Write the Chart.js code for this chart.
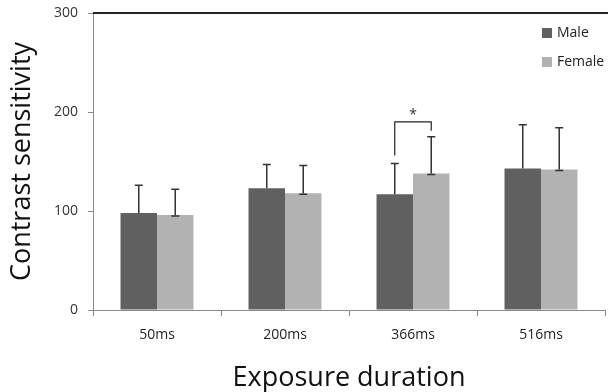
<!DOCTYPE html>
<html>
<head>
<meta charset="utf-8">
<script src="https://cdn.jsdelivr.net/npm/chart.js@4"></script>
<style>
  html, body { margin: 0; padding: 0; background: #fff; }
  #wrap { width: 608px; height: 392px; }
</style>
</head>
<body>
<div id="wrap"><canvas id="myChart" width="608" height="392"></canvas></div>
<script>
var categories = ['50ms', '200ms', '366ms', '516ms']
var maleValues = [98, 123, 117, 143]
var maleErrors = [28, 24, 31, 44]
var femaleValues = [96, 118, 138, 142]
var femaleErrors = [26, 28, 37, 42]
var yTicks = [0, 100, 200, 300]

// significance bracket at 366ms, in data units
var bracketCategory = 2
var bracketLeftFrom = 156
var bracketRightFrom = 181
var bracketTop = 190
var starValue = 199

var fontName = '"Open Sans", "DejaVu Sans", sans-serif'

var extras = {
  id: 'extras',
  afterDatasetsDraw: function (chart) {
    var ctx = chart.ctx
    var y = chart.scales.y
    var area = chart.chartArea
    ctx.save()

    // error bars
    ctx.strokeStyle = '#333'
    ctx.lineWidth = 1.5
    chart.data.datasets.forEach(function (ds, i) {
      var meta = chart.getDatasetMeta(i)
      meta.data.forEach(function (bar, j) {
        var top = y.getPixelForValue(ds.data[j] + ds.errors[j])
        ctx.beginPath()
        ctx.moveTo(bar.x, bar.y)
        ctx.lineTo(bar.x, top)
        ctx.moveTo(bar.x - 4, top)
        ctx.lineTo(bar.x + 4, top)
        if (ds.lowCap) {
          ctx.moveTo(bar.x - 4, bar.y + 1)
          ctx.lineTo(bar.x + 4, bar.y + 1)
        }
        ctx.stroke()
      })
    })

    // bracket + star
    var m = chart.getDatasetMeta(0).data[bracketCategory]
    var f = chart.getDatasetMeta(1).data[bracketCategory]
    ctx.strokeStyle = '#222'
    ctx.lineWidth = 1.2
    ctx.beginPath()
    ctx.moveTo(m.x, y.getPixelForValue(bracketLeftFrom))
    ctx.lineTo(m.x, y.getPixelForValue(bracketTop))
    ctx.lineTo(f.x, y.getPixelForValue(bracketTop))
    ctx.lineTo(f.x, y.getPixelForValue(bracketRightFrom))
    ctx.stroke()
    ctx.fillStyle = '#333'
    ctx.font = '14px ' + fontName
    ctx.textAlign = 'center'
    ctx.textBaseline = 'middle'
    ctx.fillText('*', (m.x + f.x) / 2, y.getPixelForValue(starValue) + 2)

    // top border of the plot
    ctx.strokeStyle = '#222'
    ctx.lineWidth = 2
    ctx.beginPath()
    ctx.moveTo(area.left, area.top)
    ctx.lineTo(chart.width, area.top)
    ctx.stroke()

    // legend inside plot
    ctx.font = '14px ' + fontName
    ctx.textAlign = 'left'
    chart.data.datasets.forEach(function (ds, i) {
      var ly = 33 + i * 29
      ctx.fillStyle = ds.backgroundColor
      ctx.fillRect(542, ly - 5, 10, 10)
      ctx.fillStyle = '#222'
      ctx.fillText(ds.label, 557, ly)
    })
    ctx.restore()
  }
}

var ctx = document.getElementById('myChart')
var myChart = new Chart(ctx, {
  type: 'bar',
  data: {
    labels: categories,
    datasets: [{
      label: 'Male',
      data: maleValues,
      errors: maleErrors,
      backgroundColor: '#606060',
      categoryPercentage: 0.57,
      barPercentage: 1.0
    }, {
      label: 'Female',
      data: femaleValues,
      errors: femaleErrors,
      lowCap: true,
      backgroundColor: '#b2b2b2',
      categoryPercentage: 0.57,
      barPercentage: 1.0
    }]
  },
  options: {
    responsive: false,
    animation: false,
    layout: { padding: { top: 13, right: 3, left: 0, bottom: 0 } },
    plugins: {
      legend: { display: false },
      tooltip: { enabled: false }
    },
    scales: {
      x: {
        afterFit: function (scale) {
          scale.height = 82
          scale.paddingLeft = 0
          scale.paddingRight = 0
        },
        border: { color: '#888', width: 1 },
        grid: { offset: true, drawOnChartArea: false, tickLength: 6, color: '#888' },
        ticks: { color: '#222', padding: 11, font: { family: fontName, size: 14 } },
        title: {
          display: true,
          text: 'Exposure duration',
          color: '#111',
          font: { family: fontName, size: 27, lineHeight: 1.0 },
          padding: { top: 0, bottom: 0 }
        }
      },
      y: {
        min: 0,
        max: 300,
        afterFit: function (scale) {
          scale.width = 93
          scale.paddingTop = 0
          scale.paddingBottom = 0
        },
        afterBuildTicks: function (scale) {
          scale.ticks = yTicks.map(function (v) { return { value: v } })
        },
        border: { color: '#888', width: 1 },
        grid: { drawOnChartArea: false, tickLength: 5, color: '#888' },
        ticks: { color: '#333', padding: 10, font: { family: fontName, size: 14 } },
        title: {
          display: true,
          text: 'Contrast sensitivity',
          color: '#111',
          font: { family: fontName, size: 27, lineHeight: 1.0 },
          padding: { top: 9, bottom: 0 }
        }
      }
    }
  },
  plugins: [extras]
})
</script>
</body>
</html>
